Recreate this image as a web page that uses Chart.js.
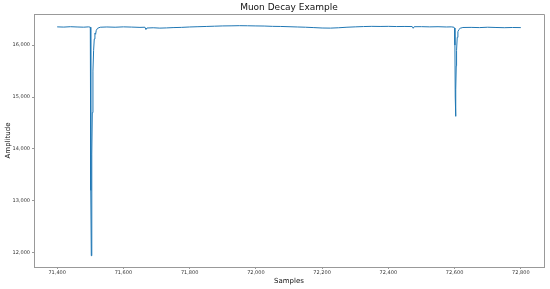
<!DOCTYPE html>
<html>
<head>
<meta charset="utf-8">
<script src="https://cdn.jsdelivr.net/npm/chart.js@4"></script>
<style>
  html, body { margin: 0; padding: 0; background: #fff; }
  #wrap { width: 550px; height: 289px; }
</style>
</head>
<body>
<div id="wrap"><canvas id="muon-chart" width="550" height="289"></canvas></div>
<script>
// Samples (x) and amplitude (y)
const samples = [
  71400, 71420, 71440, 71460, 71480, 71495, 71500, 71501, 71502, 71503,
  71504, 71505, 71506, 71508, 71510, 71512, 71514, 71516, 71518, 71522,
  71530, 71550, 71575, 71600, 71625, 71650, 71665, 71668, 71671, 71690,
  71710, 71730, 71750, 71775, 71800, 71825, 71850, 71875, 71900, 71925,
  71950, 71975, 72000, 72025, 72050, 72075, 72100, 72125, 72150, 72175,
  72200, 72225, 72250, 72275, 72300, 72325, 72350, 72375, 72400, 72425,
  72450, 72472, 72475, 72478, 72500, 72525, 72550, 72575, 72590, 72598,
  72600, 72601, 72602, 72603, 72604, 72605, 72606, 72608, 72610, 72613,
  72617, 72625, 72650, 72675, 72700, 72725, 72750, 72775, 72800
];
const amplitude = [
  16352, 16348, 16355, 16350, 16346, 16352, 16345, 16320, 13200, 11942,
  12900, 13900, 14700, 15500, 15900, 16120, 16230, 16210, 16285, 16325,
  16345, 16350, 16345, 16352, 16348, 16342, 16345, 16300, 16330, 16335,
  16328, 16332, 16338, 16342, 16350, 16355, 16360, 16365, 16370, 16372,
  16375, 16373, 16370, 16368, 16362, 16360, 16355, 16350, 16345, 16338,
  16330, 16328, 16335, 16345, 16352, 16358, 16362, 16360, 16362, 16358,
  16360, 16358, 16325, 16355, 16356, 16352, 16355, 16350, 16352, 16345,
  16330, 16000, 15000, 14628, 15150, 15600, 15900, 16150, 16260, 16300,
  16325, 16340, 16342, 16338, 16345, 16340, 16336, 16340, 16338
];
const xTicks = [71400, 71600, 71800, 72000, 72200, 72400, 72600, 72800];
const yTicks = [12000, 13000, 14000, 15000, 16000];

const points = samples.map((s, i) => ({ x: s, y: amplitude[i] }));

// Title and top/right frame lines
const framePlugin = {
  id: "frame",
  afterDraw(chart) {
    const { ctx, chartArea } = chart;
    ctx.save();
    ctx.strokeStyle = "#999";
    ctx.lineWidth = 1;
    ctx.beginPath();
    ctx.moveTo(chartArea.left, chartArea.top + 0.5);
    ctx.lineTo(chartArea.right + 0.5, chartArea.top + 0.5);
    ctx.lineTo(chartArea.right + 0.5, chartArea.bottom);
    ctx.stroke();
    ctx.fillStyle = "#111";
    ctx.font = "9px 'DejaVu Sans'";
    ctx.textAlign = "center";
    ctx.textBaseline = "middle";
    ctx.fillText("Muon Decay Example", (chartArea.left + chartArea.right) / 2, 8);
    ctx.restore();
  },
};

new Chart(document.getElementById("muon-chart").getContext("2d"), {
  type: "scatter",
  data: {
    datasets: [
      {
        data: points,
        showLine: true,
        borderColor: "#1f77b4",
        borderWidth: 1,
        pointRadius: 0,
        tension: 0,
      },
    ],
  },
  options: {
    responsive: false,
    animation: false,
    layout: { padding: { top: 14, right: 6, left: 0, bottom: 0 } },
    plugins: {
      legend: { display: false },
      tooltip: { enabled: false },
    },
    scales: {
      x: {
        type: "linear",
        min: 71330,
        max: 72870,
        afterBuildTicks: (scale) => {
          scale.ticks = xTicks.map((v) => ({ value: v }));
        },
        afterFit: (scale) => {
          scale.height = 22;
        },
        grid: { drawOnChartArea: false, tickLength: 2, color: "#999" },
        border: { color: "#999" },
        ticks: {
          font: { family: "DejaVu Sans", size: 5 },
          color: "#333",
          padding: 1,
          maxRotation: 0,
          callback: (v) => v.toLocaleString("en-US"),
        },
        title: {
          display: true,
          text: "Samples",
          font: { family: "DejaVu Sans", size: 7 },
          color: "#111",
          padding: { top: 0, bottom: 4 },
        },
      },
      y: {
        min: 11725,
        max: 16600,
        afterBuildTicks: (scale) => {
          scale.ticks = yTicks.map((v) => ({ value: v }));
        },
        afterFit: (scale) => {
          scale.width = 34;
        },
        grid: { drawOnChartArea: false, tickLength: 2, color: "#999" },
        border: { color: "#999" },
        ticks: {
          font: { family: "DejaVu Sans", size: 5 },
          color: "#333",
          padding: 2,
          callback: (v) => v.toLocaleString("en-US"),
        },
        title: {
          display: true,
          text: "Amplitude",
          font: { family: "DejaVu Sans", size: 7 },
          color: "#111",
          padding: { top: 4, bottom: 0 },
        },
      },
    },
  },
  plugins: [framePlugin],
});
</script>
</body>
</html>
